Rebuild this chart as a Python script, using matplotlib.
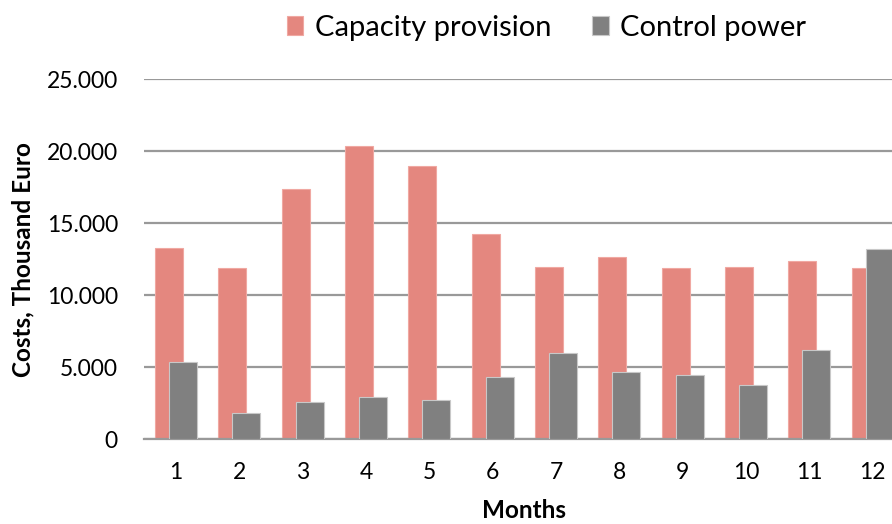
import matplotlib
matplotlib.use("Agg")
import matplotlib.pyplot as plt
from matplotlib.ticker import FuncFormatter, MultipleLocator

plt.rcParams['font.family'] = ['Lato', 'DejaVu Sans']

months = [1, 2, 3, 4, 5, 6, 7, 8, 9, 10, 11, 12]
capacity_provision = [13260, 11880, 17380, 20350, 18980, 14240,
                      11970, 12640, 11880, 11990, 12360, 11920]
control_power = [5350, 1800, 2570, 2920, 2730, 4330,
                 6010, 4650, 4470, 3790, 6180, 13240]
series_names = ["Capacity provision", "Control power"]

cap_color = "#E4877F"
ctrl_color = "#808080"

fig = plt.figure(figsize=(8.92, 5.24), dpi=100)
ax = fig.add_axes([0.1618, 0.1616, 0.852, 0.6876])

w = 0.442
off = 0.111
x = list(months)
ax.bar([m - off for m in x], capacity_provision, width=w, color=cap_color,
       edgecolor="#F0A8A2", linewidth=0.8, label=series_names[0], zorder=2)
ax.bar([m + off for m in x], control_power, width=w, color=ctrl_color,
       edgecolor="#C8C8C8", linewidth=0.8, label=series_names[1], zorder=3)

ax.set_xlim(0.5, 12.5)
ax.set_ylim(0, 25000)
ax.yaxis.set_major_locator(MultipleLocator(5000))
ax.yaxis.set_major_formatter(FuncFormatter(lambda v, p: f"{int(v):,}".replace(",", ".")))
ax.set_xticks(months)
ax.set_xticklabels([str(m) for m in months])

ax.grid(axis="y", color="#999999", linewidth=1.6, zorder=0)
ax.set_axisbelow(True)
for s in ("top", "right", "left"):
    ax.spines[s].set_visible(False)
ax.spines["bottom"].set_color("#999999")
ax.spines["bottom"].set_linewidth(1.6)
ax.tick_params(axis="both", length=0, labelsize=16.5, colors="black")
ax.tick_params(axis="x", pad=16)
ax.tick_params(axis="y", pad=19)

ax.set_xlabel("Months", fontsize=17.5, fontweight="bold", labelpad=12)
ax.set_ylabel("Costs, Thousand Euro", fontsize=17.5, fontweight="bold", labelpad=9)

leg = fig.legend(loc="center", bbox_to_anchor=(0.613, 0.947), ncol=2, frameon=False,
                 fontsize=21, handlelength=0.55, handleheight=0.62, handletextpad=0.4,
                 columnspacing=1.4)

fig.savefig("out.png", dpi=100)
